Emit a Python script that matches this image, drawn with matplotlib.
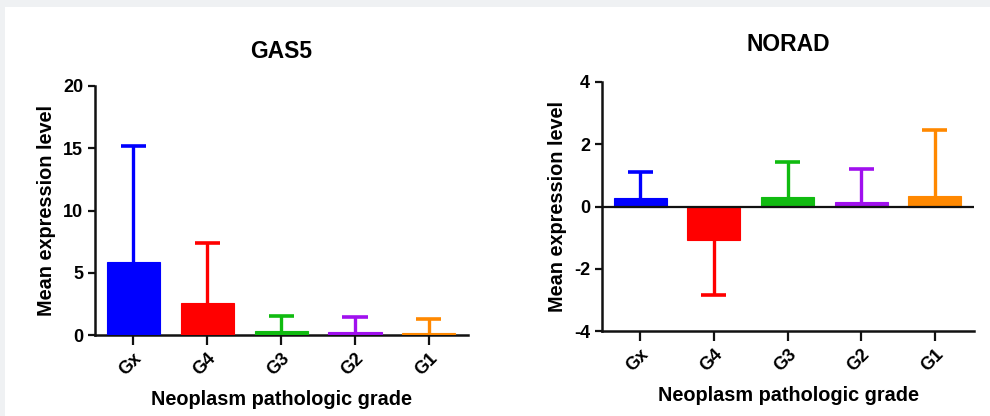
import numpy as np
import matplotlib
matplotlib.use("Agg")
import matplotlib.pyplot as plt
from matplotlib.patches import Rectangle

grades = ["Gx", "G4", "G3", "G2", "G1"]
colors = ["#0000ff", "#ff0000", "#10bb10", "#a010ee", "#ff8800"]

gas5_mean = [5.85, 2.55, 0.33, 0.28, 0.16]
gas5_sd = [9.3, 4.83, 1.2, 1.15, 1.14]

norad_mean = [0.27, -1.07, 0.32, 0.16, 0.34]
norad_sd = [0.83, 1.76, 1.10, 1.05, 2.12]

plt.rcParams["font.family"] = ["Liberation Sans", "DejaVu Sans"]
plt.rcParams["font.weight"] = "bold"
plt.rcParams["axes.unicode_minus"] = False

fig = plt.figure(figsize=(9.9, 4.16), dpi=100)
fig.patch.set_facecolor("#eff1f3")
# white card with a thin grey band at top and left
fig.add_artist(Rectangle((5 / 990, 0), 1, 1 - 7 / 416, transform=fig.transFigure,
                         facecolor="white", edgecolor="none", zorder=-10))


def panel(ax, title, mean, sd, ylim, yticks, title_pad):
    x = np.arange(len(grades))
    mean = np.array(mean)
    sd = np.array(sd)
    # one-sided SD bars pointing away from zero
    tips = mean + np.sign(mean) * sd
    cap = 0.17
    ax.vlines(x, mean, tips, colors=colors, linewidth=2.4, zorder=2)
    ax.hlines(tips, x - cap, x + cap, colors=colors, linewidth=2.6, zorder=2)
    ax.bar(x, mean, width=0.72, color=colors, edgecolor=colors, linewidth=0.8, zorder=3)
    ax.set_xlim(-0.52, 4.53)
    ax.set_ylim(*ylim)
    ax.set_yticks(yticks)
    ax.set_xticks(x)
    ax.set_xticklabels(grades, rotation=45, ha="right", va="top", rotation_mode="anchor")
    ax.set_title(title, fontsize=16.5, fontweight="bold", pad=title_pad)
    ax.set_ylabel("Mean expression level", fontsize=14.3, fontweight="bold", labelpad=5)
    ax.set_xlabel("Neoplasm pathologic grade", fontsize=14.3, fontweight="bold", labelpad=8)
    for s in ["top", "right"]:
        ax.spines[s].set_visible(False)
    for s in ["left", "bottom"]:
        ax.spines[s].set_linewidth(1.8)
        ax.spines[s].set_color("#111111")
    ax.tick_params(axis="both", width=1.6, length=5, labelsize=13, color="#111111")
    ax.tick_params(axis="x", length=7, pad=4)
    ax.set_facecolor("none")


ax1 = fig.add_axes([95 / 990, 1 - 335 / 416, (468 - 95) / 990, (335 - 86) / 416])
panel(ax1, "GAS5", gas5_mean, gas5_sd, (0, 20), [0, 5, 10, 15, 20], 20)

ax2 = fig.add_axes([602 / 990, 1 - 331 / 416, (974 - 602) / 990, (331 - 82) / 416])
panel(ax2, "NORAD", norad_mean, norad_sd, (-4, 4), [-4, -2, 0, 2, 4], 22)
ax2.axhline(0, color="#111111", linewidth=1.6, zorder=4)

fig.savefig("out.png", dpi=100, facecolor=fig.get_facecolor())
